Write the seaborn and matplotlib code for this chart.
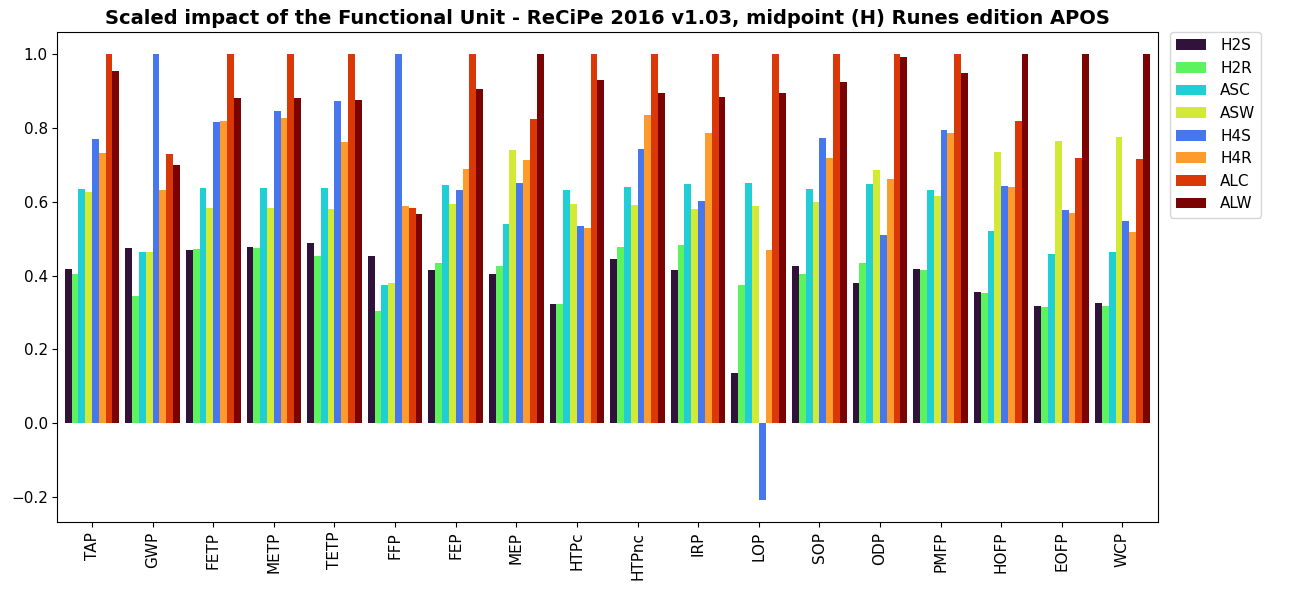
import numpy as np
import pandas as pd
import matplotlib
matplotlib.use("Agg")
import matplotlib.pyplot as plt
import seaborn as sns

# categorías (indicadores de impacto)
categorias = ['TAP', 'GWP', 'FETP', 'METP', 'TETP', 'FFP', 'FEP', 'MEP', 'HTPc',
              'HTPnc', 'IRP', 'LOP', 'SOP', 'ODP', 'PMFP', 'HOFP', 'EOFP', 'WCP']

# valores escalados por escenario
H2S = [0.419, 0.474, 0.468, 0.476, 0.487, 0.452, 0.414, 0.405, 0.324,
       0.444, 0.416, 0.135, 0.425, 0.381, 0.419, 0.356, 0.318, 0.326]
H2R = [0.405, 0.344, 0.471, 0.474, 0.452, 0.305, 0.435, 0.427, 0.324,
       0.476, 0.482, 0.373, 0.405, 0.435, 0.416, 0.354, 0.315, 0.318]
ASC = [0.635, 0.465, 0.637, 0.637, 0.637, 0.373, 0.645, 0.539, 0.632,
       0.640, 0.648, 0.651, 0.635, 0.648, 0.632, 0.520, 0.457, 0.463]
ASW = [0.627, 0.465, 0.583, 0.583, 0.580, 0.381, 0.594, 0.741, 0.594,
       0.591, 0.580, 0.588, 0.599, 0.686, 0.615, 0.735, 0.765, 0.776]
H4S = [0.771, 1.000, 0.815, 0.845, 0.872, 1.000, 0.632, 0.651, 0.534,
       0.744, 0.602, -0.208, 0.774, 0.509, 0.795, 0.643, 0.577, 0.547]
H4R = [0.733, 0.632, 0.820, 0.828, 0.763, 0.588, 0.689, 0.714, 0.528,
       0.834, 0.785, 0.468, 0.719, 0.662, 0.787, 0.640, 0.569, 0.517]
ALC = [1.000, 0.730, 1.000, 1.000, 1.000, 0.583, 1.000, 0.825, 1.000,
       1.000, 1.000, 1.000, 1.000, 1.000, 1.000, 0.820, 0.719, 0.716]
ALW = [0.955, 0.700, 0.880, 0.880, 0.877, 0.566, 0.905, 1.000, 0.929,
       0.896, 0.885, 0.894, 0.924, 0.992, 0.948, 1.000, 1.000, 1.000]

escenarios = ['H2S', 'H2R', 'ASC', 'ASW', 'H4S', 'H4R', 'ALC', 'ALW']
colores = ['#30123b', '#5df35e', '#1fcfd5', '#d2e935',
           '#4777ef', '#fe9b2d', '#da3907', '#7a0403']

series = [H2S, H2R, ASC, ASW, H4S, H4R, ALC, ALW]
df = pd.DataFrame({
    'categoria': categorias * len(escenarios),
    'escenario': np.repeat(escenarios, len(categorias)),
    'valor': np.concatenate(series),
})

#%%
fig, ax = plt.subplots(figsize=(12.89, 5.9), dpi=100)
sns.barplot(data=df, x='categoria', y='valor', hue='escenario',
            hue_order=escenarios, palette=colores, width=0.9,
            saturation=1, ax=ax)

ax.set_title('Scaled impact of the Functional Unit - ReCiPe 2016 v1.03, midpoint (H) Runes edition APOS',
             fontsize=14, fontweight='bold')
ax.set_xlabel('')
ax.set_ylabel('')
ax.set_xlim(-0.57, 17.58)
ax.tick_params(axis='x', labelrotation=90, labelsize=11)
ax.tick_params(axis='y', labelsize=11)
ax.legend(loc='upper left', bbox_to_anchor=(1.011, 1.0), borderaxespad=0,
          fontsize=11, handletextpad=0.9)

fig.subplots_adjust(left=0.0446, right=0.898, top=0.946, bottom=0.115)
fig.savefig('out.png', dpi=100)
